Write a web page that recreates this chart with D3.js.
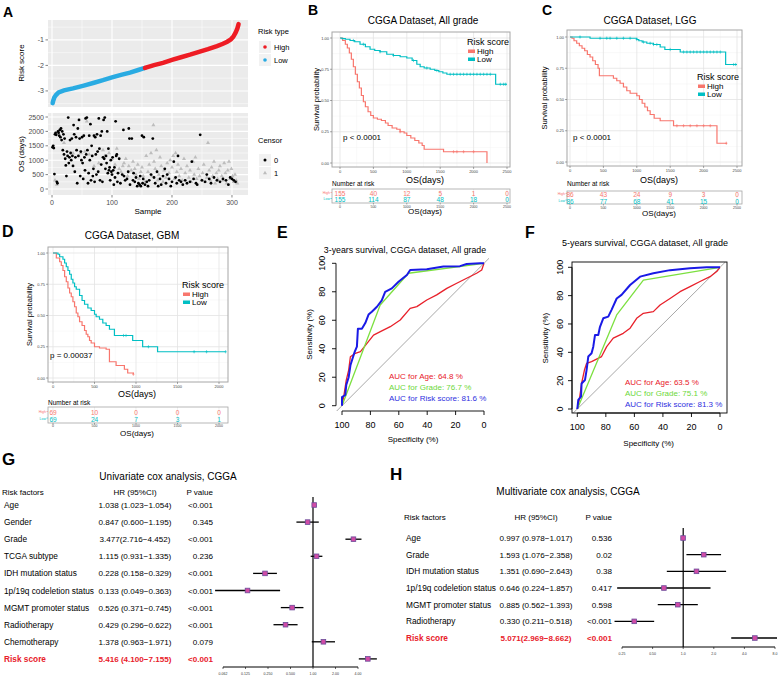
<!DOCTYPE html>
<html>
<head>
<meta charset="utf-8">
<script src="https://cdn.jsdelivr.net/npm/d3@7"></script>
<style>
  body { margin: 0; background: #fff; }
</style>
</head>
<body>
<div id="graf"></div>
<script>
////DATOS - PANEL A (risk score ordenado y OS por muestra)
riskLow  = [[1,-3.48],[2,-3.38],[4,-3.25],[7,-3.15],[11,-3.06],[20,-2.98],[35,-2.9],[53,-2.79],[70,-2.68],[85,-2.58],[100,-2.47],[115,-2.37],[130,-2.28],[145,-2.17],[155,-2.1]]
riskHigh = [[155,-2.1],[170,-1.99],[185,-1.9],[200,-1.78],[215,-1.68],[230,-1.58],[245,-1.47],[260,-1.36],[275,-1.24],[285,-1.15],[292,-1.07],[298,-0.98],[302,-0.88],[306,-0.72],[309,-0.55],[311,-0.38]]
osDead = [[1,1450],[2,1500],[3,1420],[4,520],[5,1900],[6,1950],[7,1880],[8,250],[9,200],[10,2000],[11,1950],[12,1850],[13,2050],[14,1800],[15,2100],[16,1700],[17,2000],[18,1350],[19,1900],[20,1200],[21,1750],[22,1050],[23,820],[24,450],[25,1300],[26,1150],[27,2480],[28,900],[29,1100],[30,1700],[31,1250],[32,1000],[33,1750],[34,1150],[35,800],[36,2220],[37,1900],[38,600],[39,1100],[40,1800],[41,1350],[42,200],[43,2100],[44,1150],[45,2400],[46,1750],[47,450],[48,1300],[49,1000],[50,1800],[51,900],[52,350],[53,1850],[54,1100],[55,650],[56,2450],[57,1200],[58,2480],[59,1350],[60,200],[61,550],[62,1850],[63,1000],[64,2250],[65,300],[66,1500],[67,1150],[68,450],[69,700],[70,1850],[71,250],[72,1800],[73,1200],[74,500],[75,1900],[76,1300],[77,600],[78,2450],[79,1400],[80,300],[81,1850],[82,850],[83,2000],[84,250],[85,1100],[86,2400],[87,1050],[88,2480],[89,700],[90,1150],[91,900],[92,2000],[93,550],[94,1400],[95,650],[96,750],[97,300],[98,1000],[99,600],[100,500],[101,1100],[102,650],[103,150],[104,750],[105,400],[106,2350],[107,1150],[108,1200],[109,250],[110,550],[112,1050],[114,200],[117,500],[119,2050],[120,450],[122,300],[125,350],[127,600],[128,2100],[129,1750],[130,150],[133,1750],[135,300],[136,550],[138,250],[140,400],[142,100],[144,200],[146,150],[147,450],[148,100],[150,1850],[151,200],[152,350],[153,1800],[155,150],[158,250],[160,100],[162,300],[165,500],[168,1750],[170,400],[172,200],[175,600],[177,100],[180,350],[182,150],[185,450],[188,700],[190,200],[192,500],[195,350],[198,100],[200,250],[203,950],[206,400],[208,200],[210,1150],[212,300],[215,250],[218,150],[222,300],[225,200],[230,250],[233,950],[236,350],[240,200],[242,150],[247,1880],[250,300],[255,250],[258,500],[262,350],[265,200],[270,400],[275,300],[280,250],[285,350],[290,300],[294,150],[297,400],[300,350],[303,300],[306,250]]
osCens = [[5,300],[8,150],[20,1600],[35,1250],[48,1250],[55,1300],[58,2350],[62,1200],[70,800],[78,900],[85,1350],[88,1150],[95,1250],[100,1050],[105,850],[108,1400],[112,700],[115,600],[118,800],[120,900],[123,1050],[126,450],[128,800],[132,650],[135,950],[138,700],[140,500],[143,850],[145,350],[148,600],[150,750],[152,450],[155,250],[157,1150],[160,600],[162,850],[165,1250],[167,450],[169,2220],[170,950],[172,700],[174,1350],[176,300],[178,500],[180,1100],[182,800],[185,250],[187,650],[190,400],[192,900],[195,550],[197,1000],[200,750],[202,1150],[204,350],[206,1250],[208,600],[210,850],[212,450],[215,700],[217,300],[220,1050],[222,550],[225,800],[228,400],[230,650],[232,250],[235,950],[237,500],[239,1100],[241,350],[244,700],[246,450],[249,300],[251,550],[253,850],[256,250],[258,400],[260,1600],[262,650],[264,300],[266,750],[268,450],[270,950],[272,200],[274,550],[276,350],[278,650],[280,800],[283,450],[285,300],[287,900],[289,550],[291,200],[293,650],[295,950],[297,350],[299,700],[301,450],[303,250],[305,500],[307,300],[309,200]]

////DATOS - KAPLAN MEIER
bHighT = [0,40,80,110,140,170,200,230,260,290,320,350,380,420,460,500,560,620,680,720,780,850,900,960,1000,1060,1120,1180,1230,1260,1550,2200]
bHighS = [1,0.98,0.95,0.92,0.88,0.83,0.77,0.71,0.65,0.6,0.54,0.49,0.45,0.41,0.38,0.36,0.35,0.34,0.32,0.3,0.28,0.27,0.25,0.24,0.22,0.2,0.18,0.16,0.14,0.11,0.09,0]
bHighCens = [900,1700,1750,1850,2000]
bLowT = [0,30,80,150,220,300,380,450,520,600,700,800,900,1000,1080,1150,1200,1260,1350,1420,1480,1540,1600,2330,2500]
bLowS = [1,0.995,0.99,0.98,0.97,0.95,0.93,0.91,0.9,0.89,0.87,0.86,0.85,0.84,0.82,0.79,0.77,0.76,0.75,0.74,0.73,0.72,0.71,0.63,0.63]
bLowCens = [200,350,600,800,1100,1300,1450,1650,1700,1750,1800,1850,1900,1950,2000,2050,2100,2150,2200,2250,2400,2450,2480]
bRiskHigh = [155,40,12,5,1,0]
bRiskLow  = [155,114,87,48,18,0]

cHighT = [0,30,60,100,140,180,220,260,300,340,380,420,440,650,700,750,800,850,900,1000,1040,1080,1120,1160,1200,1260,1350,1550,2200,2350]
cHighS = [1,0.99,0.97,0.95,0.93,0.91,0.89,0.86,0.84,0.81,0.78,0.75,0.69,0.67,0.65,0.63,0.6,0.57,0.55,0.53,0.5,0.47,0.44,0.41,0.38,0.35,0.33,0.29,0.15,0.15]
cHighCens = [1600,1700,1800,1900,2000,2100,2340]
cLowT = [0,300,1000,1030,1080,1150,1250,1350,1420,1650,2330,2500]
cLowS = [1,0.99,0.98,0.97,0.96,0.95,0.94,0.92,0.9,0.88,0.78,0.78]
cLowCens = [150,450,550,600,700,800,900,1000,1100,1200,1250,1300,1500,1700,1750,1800,1850,1900,1950,2000,2050,2100,2150,2200,2250,2450,2480]
cRiskHigh = [86,43,24,9,3,0]
cRiskLow  = [86,77,68,41,15,0]

dHighT = [0,40,80,100,120,140,160,180,200,220,240,260,280,300,320,350,380,400,420,440,460,500,560,640,680,760,860,900,968]
dHighS = [1,0.96,0.93,0.9,0.86,0.81,0.77,0.72,0.68,0.65,0.61,0.57,0.52,0.49,0.45,0.42,0.38,0.35,0.33,0.3,0.28,0.25,0.24,0.23,0.13,0.1,0.07,0.04,0.03]
dHighCens = [968]
dLowT = [0,60,80,120,140,160,180,200,220,240,260,280,320,350,380,420,460,500,520,560,600,640,680,740,960,1080,1260,2080]
dLowS = [1,0.99,0.97,0.95,0.92,0.89,0.86,0.83,0.79,0.76,0.73,0.71,0.66,0.62,0.59,0.56,0.54,0.51,0.49,0.47,0.44,0.42,0.39,0.34,0.3,0.25,0.21,0.21]
dLowCens = [850,880,1150,1700,1850,2080]
dRiskHigh = [69,10,0,0,0]
dRiskLow  = [69,24,7,3,1]

////DATOS - ROC
eAgeSpec = [100,98.8,97,95.3,94.1,90.6,87,82.4,77.8,73,66,59,52,47.3,40.3,33.3,26.2,19.2,12.2,5.2,1.6,0]
eAgeSens = [0,6.3,18,25,34.4,36.8,38,43.8,49.6,52,55.5,60.2,68.4,69.6,74.2,77.8,82.4,86,89.5,93,95.3,100]
eGradeSpec = [100,73.1,53.2,0]
eGradeSens = [0,70.7,93,100]
eRiskSpec = [100,100,97.7,97,95.3,94,92.3,91,89.5,88.8,86,83.6,81.3,79,75.4,72,69.6,64.9,60.2,54.3,52,40.3,28.6,16.9,12.2,2.8,0]
eRiskSens = [0,6,7.5,14.5,20,28.6,34,38,41.5,54,54,58,64,66,69.5,74,80,82.4,87,91.8,95.3,95.8,97.7,98,99.5,100,100]
eAUC = ['AUC for Age: 64.8 %', 'AUC for Grade: 76.7 %', 'AUC for Risk score: 81.6 %']

fAgeSpec = [100,98.6,97,95,93.5,90,83,79.4,74.8,67.8,63,58.4,53.7,46.7,42,35,28,21,14,7,2.3,0]
fAgeSens = [0,6.4,18,27.5,32.2,33.4,37,44,50,53.4,57,64,67.5,68.7,73.4,78,82.8,86.4,90,93.4,97,100]
fGradeSpec = [100,72.4,53.7,0]
fGradeSens = [0,66.4,91,100]
fRiskSpec = [100,99.3,97.4,97,94.6,93.5,92.3,90,88.8,87.6,85.3,84.1,81.8,78.3,76,72.4,69,63,56,46.7,35,21,9.3,0]
fRiskSens = [0,6.4,8.7,18,20.5,27.5,37,39.3,44,52.2,52.2,58,64,65.2,70,78,80.5,87.5,93.4,95.8,98,99.3,100,100]
fAUC = ['AUC for Age: 63.5 %', 'AUC for Grade: 75.1 %', 'AUC for Risk score: 81.3 %']

////DATOS - COX
gFactors = ['Age','Gender','Grade','TCGA subtype','IDH mutation status','1p/19q codeletion status','MGMT promoter status','Radiotherapy','Chemotherapy','Risk score']
gHRtext = ['1.038 (1.023\u22121.054)','0.847 (0.600\u22121.195)','3.477(2.716\u22124.452)','1.115 (0.931\u22121.335)','0.228 (0.158\u22120.329)','0.133 (0.049\u22120.363)','0.526 (0.371\u22120.745)','0.429 (0.296\u22120.622)','1.378 (0.963\u22121.971)','5.416 (4.100\u22127.155)']
gHR = [1.038,0.847,3.477,1.115,0.228,0.133,0.526,0.429,1.378,5.416]
gLo = [1.023,0.600,2.716,0.931,0.158,0.049,0.371,0.296,0.963,4.100]
gHi = [1.054,1.195,4.452,1.335,0.329,0.363,0.745,0.622,1.971,7.155]
gP  = ['<0.001','0.345','<0.001','0.236','<0.001','<0.001','<0.001','<0.001','0.079','<0.001']
gTicks = [0.0625,0.125,0.25,0.5,1,2,4]
gTickLab = ['0.062','0.125','0.250','0.500','1.00','2.00','4.00']

hFactors = ['Age','Grade','IDH mutation status','1p/19q codeletion status','MGMT promoter status','Radiotherapy','Risk score']
hHRtext = ['0.997 (0.978\u22121.017)','1.593 (1.076\u22122.358)','1.351 (0.690\u22122.643)','0.646 (0.224\u22121.857)','0.885 (0.562\u22121.393)','0.330 (0.211\u22120.518)','5.071(2.969\u22128.662)']
hHR = [0.997,1.593,1.351,0.646,0.885,0.330,5.071]
hLo = [0.978,1.076,0.690,0.224,0.562,0.211,2.969]
hHi = [1.017,2.358,2.643,1.857,1.393,0.518,8.662]
hP  = ['0.536','0.02','0.38','0.417','0.598','<0.001','<0.001']
hTicks = [0.25,0.5,1,2,4,8]
hTickLab = ['0.25','0.50','1.0','2.0','4.0','8.0']

////COLORES
RED_KM = '#F8766D'
TEAL_KM = '#00BFC4'
RISK_RED = '#EE1C24'
RISK_BLUE = '#29ABE2'

////SVG
svg = d3.select('#graf').append('svg')
        .attr('width', 778).attr('height', 677)
        .style('font-family', '"Liberation Sans", Arial, Helvetica, sans-serif')
svg.append('rect').attr('width', 778).attr('height', 677).attr('fill', '#fff')

function label(x, y, s, size, o = {}) {
  const t = svg.append('text')
    .attr('x', x).attr('y', y).text(s)
    .attr('font-size', size)
    .attr('text-anchor', o.anchor || 'start')
    .attr('fill', o.fill || '#000')
  if (o.bold) t.attr('font-weight', 'bold')
  if (o.rot) t.attr('transform', `rotate(-90,${x},${y})`)
  return t
}
function hline(x1, x2, y, color, w) {
  svg.append('line').attr('x1', x1).attr('x2', x2).attr('y1', y).attr('y2', y).attr('stroke', color).attr('stroke-width', w)
}
function vline(x, y1, y2, color, w) {
  svg.append('line').attr('x1', x).attr('x2', x).attr('y1', y1).attr('y2', y2).attr('stroke', color).attr('stroke-width', w)
}

////LETRAS DE PANEL
label(3, 17, 'A', 14, {bold: true})
label(308, 15, 'B', 14, {bold: true})
label(542, 15, 'C', 14, {bold: true})
label(2, 237, 'D', 16, {bold: true})
label(277, 238, 'E', 16, {bold: true})
label(525, 238, 'F', 16, {bold: true})
label(2, 465, 'G', 17, {bold: true})
label(390, 480, 'H', 17, {bold: true})

////PANEL A
const xA = d3.scaleLinear().domain([-6.7, 326.7]).range([48, 248])
const yRisk = d3.scaleLinear().domain([-3.63, -0.22]).range([107, 20])
const yOS = d3.scaleLinear().domain([-208, 2639]).range([195, 113])

function ggPanel(y, xMaj, xMin, yMaj, yMin) {
  const [x0, x1] = xA.range(), [yb, yt] = y.range()
  svg.append('rect').attr('x', x0).attr('y', yt).attr('width', x1 - x0).attr('height', yb - yt).attr('fill', '#EBEBEB')
  xMin.forEach(v => vline(xA(v), yt, yb, '#fff', 0.5))
  yMin.forEach(v => hline(x0, x1, y(v), '#fff', 0.5))
  xMaj.forEach(v => vline(xA(v), yt, yb, '#fff', 1.1))
  yMaj.forEach(v => hline(x0, x1, y(v), '#fff', 1.1))
}
ggPanel(yRisk, [0, 100, 200, 300], [50, 150, 250], [-1, -2, -3], [-0.5, -1.5, -2.5, -3.5])
ggPanel(yOS, [0, 100, 200, 300], [50, 150, 250], [0, 500, 1000, 1500, 2000, 2500], [250, 750, 1250, 1750, 2250])

;[-1, -2, -3].forEach(v => {
  hline(45.5, 48, yRisk(v), '#333', 0.6)
  label(44, yRisk(v) + 2.5, String(v), 7, {anchor: 'end', fill: '#4D4D4D'})
})
;[0, 500, 1000, 1500, 2000, 2500].forEach(v => {
  hline(45.5, 48, yOS(v), '#333', 0.6)
  label(44, yOS(v) + 2.5, String(v), 7, {anchor: 'end', fill: '#4D4D4D'})
})
;[0, 100, 200, 300].forEach(v => {
  vline(xA(v), 195, 197.5, '#333', 0.6)
  label(xA(v), 205, String(v), 7, {anchor: 'middle', fill: '#4D4D4D'})
})
label(24, 63, 'Risk score', 8, {anchor: 'middle', rot: true})
label(24, 154, 'OS (days)', 8, {anchor: 'middle', rot: true})
label(148, 214, 'Sample', 8, {anchor: 'middle'})

const lineA = d3.line().x(d => xA(d[0])).y(d => yRisk(d[1]))
svg.append('path').attr('d', lineA(riskLow)).attr('fill', 'none').attr('stroke', RISK_BLUE).attr('stroke-width', 4.5).attr('stroke-linecap', 'round')
svg.append('path').attr('d', lineA(riskHigh)).attr('fill', 'none').attr('stroke', RISK_RED).attr('stroke-width', 4.5).attr('stroke-linecap', 'round')

const tri = d3.symbol().type(d3.symbolTriangle).size(7)
svg.append('g').selectAll('path').data(osCens).join('path')
   .attr('d', tri).attr('transform', d => `translate(${xA(d[0])},${yOS(d[1])})`)
   .attr('fill', '#BDBDBD')
svg.append('g').selectAll('circle').data(osDead).join('circle')
   .attr('cx', d => xA(d[0])).attr('cy', d => yOS(d[1])).attr('r', 1.4).attr('fill', '#000')

// leyendas A
label(258, 34, 'Risk type', 7.5)
;[['High', RISK_RED, 47], ['Low', RISK_BLUE, 60]].forEach(([s, c, y]) => {
  svg.append('rect').attr('x', 259).attr('y', y - 6).attr('width', 12).attr('height', 12).attr('fill', '#F2F2F2')
  svg.append('circle').attr('cx', 265).attr('cy', y).attr('r', 1.8).attr('fill', c)
  label(274, y + 2.5, s, 7.5)
})
label(258, 143, 'Censor', 7.5)
svg.append('rect').attr('x', 259).attr('y', 154).attr('width', 12).attr('height', 12).attr('fill', '#F2F2F2')
svg.append('circle').attr('cx', 265).attr('cy', 160).attr('r', 1.5).attr('fill', '#000')
label(274, 162.5, '0', 7.5)
svg.append('rect').attr('x', 259).attr('y', 167).attr('width', 12).attr('height', 12).attr('fill', '#F2F2F2')
svg.append('path').attr('d', tri).attr('transform', 'translate(265,173)').attr('fill', '#BDBDBD')
label(274, 175.5, '1', 7.5)

////KAPLAN-MEIER
function sAt(T, S, t) {
  let s = S[0]
  T.forEach((v, i) => { if (v <= t) s = S[i] })
  return s
}

function drawKM(c, curves, riskHigh, riskLow) {
  const x = d3.scaleLinear().domain([0, c.xMax]).range(c.xr)
  const y = d3.scaleLinear().domain([0, 1]).range(c.yr)
  const ticks = d3.range(0, c.xMax + 1, 500)
  const minors = d3.range(250, c.xMax, 500)
  const b = c.box
  svg.append('rect').attr('x', b[0]).attr('y', b[1]).attr('width', b[2] - b[0]).attr('height', b[3] - b[1]).attr('fill', '#fff')
  minors.forEach(v => vline(x(v), b[1], b[3], '#F2F2F2', 0.5))
  ;[0.125, 0.375, 0.625, 0.875].forEach(v => hline(b[0], b[2], y(v), '#F2F2F2', 0.5))
  ticks.forEach(v => vline(x(v), b[1], b[3], '#E3E3E3', 0.8))
  ;[0, 0.25, 0.5, 0.75, 1].forEach(v => hline(b[0], b[2], y(v), '#E3E3E3', 0.8))
  svg.append('rect').attr('x', b[0]).attr('y', b[1]).attr('width', b[2] - b[0]).attr('height', b[3] - b[1])
     .attr('fill', 'none').attr('stroke', '#A6A6A6').attr('stroke-width', 1)

  // ejes
  ;[0, 0.25, 0.5, 0.75, 1].forEach(v => {
    hline(b[0] - 2, b[0], y(v), '#555', 0.5)
    label(b[0] - 3, y(v) + 1.5, v.toFixed(2), 4, {anchor: 'end', fill: '#444'})
  })
  ticks.forEach(v => {
    vline(x(v), b[3], b[3] + 2, '#555', 0.5)
    label(x(v), b[3] + 6, String(v), 4, {anchor: 'middle', fill: '#444'})
  })
  label(c.ylabX, (b[1] + b[3]) / 2, 'Survival probability', 7.5, {anchor: 'middle', rot: true})
  label(c.osX, c.osY, 'OS(days)', 9, {anchor: 'middle'})
  label(c.titleX, c.titleY, c.title, 10, {anchor: 'middle'})

  // curvas
  const step = d3.line().x(d => x(d[0])).y(d => y(d[1])).curve(d3.curveStepAfter)
  curves.forEach(k => {
    svg.append('path').attr('d', step(d3.zip(k.T, k.S))).attr('fill', 'none')
       .attr('stroke', k.color).attr('stroke-width', 1.2)
    k.cens.forEach(t => {
      const px = x(t), py = y(sAt(k.T, k.S, t))
      svg.append('path').attr('d', `M${px - 1.2},${py}H${px + 1.2}M${px},${py - 1.6}V${py + 1.6}`)
         .attr('stroke', k.color).attr('stroke-width', 0.6)
    })
  })

  // leyenda
  label(c.leg[0], c.leg[1], 'Risk score', 9)
  ;[['High', RED_KM], ['Low', TEAL_KM]].forEach(([s, col], i) => {
    const yy = c.leg[1] + 9 + i * 8
    svg.append('rect').attr('x', c.leg[0] + 1).attr('y', yy - 4.5).attr('width', 7).attr('height', 3.5).attr('fill', col)
    label(c.leg[0] + 10, yy, s, 8)
  })
  label(c.p[0], c.p[1], c.pText, 8)

  // tabla de riesgo
  const tbl = c.tbl
  label(b[0], tbl.numY, 'Number at risk', 6.5)
  const ty0 = tbl.box[0], ty1 = tbl.box[1]
  ticks.forEach(v => vline(x(v), ty0, ty1, '#E6E6E6', 0.6))
  svg.append('rect').attr('x', b[0]).attr('y', ty0).attr('width', b[2] - b[0]).attr('height', ty1 - ty0)
     .attr('fill', 'none').attr('stroke', '#A6A6A6').attr('stroke-width', 0.8)
  ;[[riskHigh, RED_KM, 'High', tbl.rows[0]], [riskLow, TEAL_KM, 'Low', tbl.rows[1]]].forEach(([arr, col, nm, ry]) => {
    label(b[0] - 2, ry, nm, 3.5, {anchor: 'end', fill: col})
    hline(b[0] - 1.5, b[0], ry - 1.5, col, 0.5)
    arr.forEach((n, i) => label(x(ticks[i]), ry + 2, String(n), 6.5, {anchor: 'middle', fill: col}))
  })
  ticks.forEach(v => {
    vline(x(v), ty1, ty1 + 1.5, '#555', 0.5)
    label(x(v), tbl.tickY, String(v), 3.5, {anchor: 'middle', fill: '#444'})
  })
  label(c.osX, tbl.osY, 'OS(days)', 8, {anchor: 'middle'})
}

drawKM({xMax: 2500, xr: [340, 507], yr: [163, 38], box: [332, 32, 510, 167], ylabX: 319, osX: 425, osY: 183,
        title: 'CGGA Dataset, All grade', titleX: 423, titleY: 23.5, leg: [467, 45], p: [343, 140], pText: 'p < 0.0001',
        tbl: {numY: 186, box: [189, 203], rows: [194, 200], tickY: 207.5, osY: 214}},
       [{T: bHighT, S: bHighS, cens: bHighCens, color: RED_KM}, {T: bLowT, S: bLowS, cens: bLowCens, color: TEAL_KM}],
       bRiskHigh, bRiskLow)

drawKM({xMax: 2500, xr: [570, 737], yr: [162, 37], box: [567, 30, 742, 166], ylabX: 547, osX: 659, osY: 183,
        title: 'CGGA Dataset, LGG', titleX: 650, titleY: 23.5, leg: [697, 80], p: [573, 140], pText: 'p < 0.0001',
        tbl: {numY: 186, box: [191, 204], rows: [195, 201.5], tickY: 209, osY: 216}},
       [{T: cHighT, S: cHighS, cens: cHighCens, color: RED_KM}, {T: cLowT, S: cLowS, cens: cLowCens, color: TEAL_KM}],
       cRiskHigh, cRiskLow)

drawKM({xMax: 2000, xr: [53, 219], yr: [378, 253], box: [48, 247, 228, 382], ylabX: 32, osX: 137, osY: 397,
        title: 'CGGA Dataset, GBM', titleX: 132, titleY: 238.5, leg: [182, 288], p: [50, 358], pText: 'p = 0.00037',
        tbl: {numY: 405, box: [407, 423], rows: [413, 419.5], tickY: 427, osY: 436}},
       [{T: dHighT, S: dHighS, cens: dHighCens, color: RED_KM}, {T: dLowT, S: dLowS, cens: dLowCens, color: TEAL_KM}],
       dRiskHigh, dRiskLow)

////ROC
function drawROC(c, curves, auc) {
  const x = d3.scaleLinear().domain([100, 0]).range(c.xr)
  const y = d3.scaleLinear().domain([0, 100]).range(c.yr)
  const r = c.region
  const clipId = 'clip' + c.id
  svg.append('clipPath').attr('id', clipId).append('rect')
     .attr('x', r[0]).attr('y', r[1]).attr('width', r[2] - r[0]).attr('height', r[3] - r[1])
  const g = svg.append('g').attr('clip-path', `url(#${clipId})`)
  g.append('line').attr('x1', x(110)).attr('y1', y(-10)).attr('x2', x(-10)).attr('y2', y(110))
   .attr('stroke', '#A8A8A8').attr('stroke-width', 1)
  const line = d3.line().x(d => x(d[0])).y(d => y(d[1]))
  curves.forEach(k => {
    g.append('path').attr('d', line(d3.zip(k.spec, k.sens))).attr('fill', 'none')
     .attr('stroke', k.color).attr('stroke-width', k.w).attr('stroke-linejoin', 'round')
  })
  if (c.box) {
    svg.append('rect').attr('x', r[0]).attr('y', r[1]).attr('width', r[2] - r[0]).attr('height', r[3] - r[1])
       .attr('fill', 'none').attr('stroke', '#000').attr('stroke-width', 0.9)
  }
  const ax = r[0], ay = r[3]
  vline(ax, y(0), y(100), '#000', 0.9)
  hline(x(100), x(0), ay, '#000', 0.9)
  ;[0, 20, 40, 60, 80, 100].forEach(v => {
    hline(ax - 4, ax, y(v), '#000', 0.9)
    label(c.yTickX, y(v), String(v), 9, {anchor: 'middle', rot: true})
    vline(x(v), ay, ay + 4, '#000', 0.9)
    label(x(v), ay + 17, String(v), 9, {anchor: 'middle'})
  })
  label(c.ylabX, (y(0) + y(100)) / 2, 'Sensitivity (%)', 8, {anchor: 'middle', rot: true})
  label((x(0) + x(100)) / 2, c.xlabY, 'Specificity (%)', 8, {anchor: 'middle'})
  label(c.titleX, c.titleY, c.title, c.titleSize, {anchor: 'middle'})
  auc.forEach((s, i) => label(c.leg[0], c.leg[1] + i * 11, s, 8, {fill: curves[i].text}))
}

drawROC({id: 'E', xr: [342, 484], yr: [405.7, 263.3], region: [336, 258, 489, 411], box: false,
         yTickX: 325, ylabX: 312, xlabY: 442, title: '3-years survival, CGGA dataset, All grade', titleX: 405, titleY: 253,
         titleSize: 8.8, leg: [389, 379]},
        [{spec: eAgeSpec, sens: eAgeSens, color: '#E8202A', text: '#E8202A', w: 1.3},
         {spec: eGradeSpec, sens: eGradeSens, color: '#7CE040', text: '#6CD83A', w: 1.3},
         {spec: eRiskSpec, sens: eRiskSens, color: '#1A1AE6', text: '#3030E0', w: 2}], eAUC)

drawROC({id: 'F', xr: [577.3, 720], yr: [409, 267.3], region: [572, 262, 727, 413], box: true,
         yTickX: 563, ylabX: 548, xlabY: 446, title: '5-years survival, CGGA dataset, All grade', titleX: 645, titleY: 246,
         titleSize: 9, leg: [625, 385]},
        [{spec: fAgeSpec, sens: fAgeSens, color: '#E8202A', text: '#E8202A', w: 1.3},
         {spec: fGradeSpec, sens: fGradeSens, color: '#7CE040', text: '#6CD83A', w: 1.3},
         {spec: fRiskSpec, sens: fRiskSens, color: '#1A1AE6', text: '#3030E0', w: 2}], fAUC)

////FOREST PLOTS
function drawForest(c, factors, hrText, hr, lo, hi, pv, ticks, tickLab) {
  const x = d3.scaleLog().base(2).domain([ticks[0], ticks[ticks.length - 1]]).range(c.xr)
  const rowY = i => c.row0 + i * c.dy
  label(c.titleX, c.titleY, c.title, 10, {anchor: 'middle'})
  label(c.nameX - 2, c.headY, 'Risk factors', 8)
  label(c.hrX, c.headY, 'HR (95%CI)', 8, {anchor: 'middle'})
  label(c.pX, c.headY, 'P value', 8, {anchor: 'end'})
  factors.forEach((f, i) => {
    const last = i === factors.length - 1
    const o = last ? {fill: '#E8202A', bold: true} : {}
    label(c.nameX, rowY(i) + 3, f, 8.3, o)
    label(c.hrX, rowY(i) + 3, hrText[i], 8.1, Object.assign({anchor: 'middle'}, o))
    label(c.pX, rowY(i) + 3, pv[i], 8.1, Object.assign({anchor: 'end'}, o))
  })
  vline(x(1), c.vTop, c.axisY, '#000', 1.2)
  factors.forEach((f, i) => {
    hline(Math.max(x(lo[i]), c.clip[0]), Math.min(x(hi[i]), c.clip[1]), rowY(i), '#000', 1.3)
    svg.append('rect').attr('x', x(hr[i]) - 2.3).attr('y', rowY(i) - 2.3).attr('width', 4.6).attr('height', 4.6)
       .attr('fill', '#D14BA6').attr('stroke', '#6B4C9A').attr('stroke-width', 0.8)
  })
  hline(c.xr[0], c.xr[1], c.axisY, '#000', 1)
  ticks.forEach((v, i) => {
    vline(x(v), c.axisY, c.axisY + 2, '#000', 0.6)
    label(x(v), c.axisY + 7.5, tickLab[i], 3.5, {anchor: 'middle', fill: '#333'})
  })
}

drawForest({xr: [223, 358], row0: 505, dy: 17.1, title: 'Univariate cox analysis, CGGA', titleX: 168, titleY: 480,
            headY: 495, nameX: 4, hrX: 135, pX: 213, vTop: 497, axisY: 667, clip: [0, 778]},
           gFactors, gHRtext, gHR, gLo, gHi, gP, gTicks, gTickLab)

drawForest({xr: [622, 775], row0: 538, dy: 16.67, title: 'Multivariate cox analysis, CGGA', titleX: 568, titleY: 495,
            headY: 520, nameX: 406, hrX: 536, pX: 612, vTop: 528, axisY: 647, clip: [0, 777]},
           hFactors, hHRtext, hHR, hLo, hHi, hP, hTicks, hTickLab)
</script>
</body>
</html>
